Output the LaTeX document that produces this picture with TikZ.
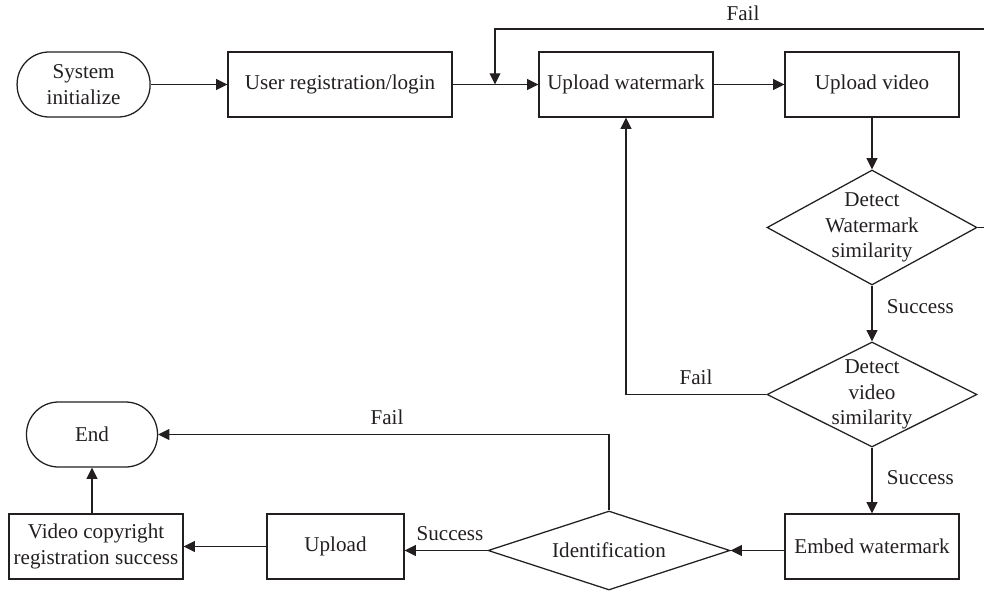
\documentclass[tikz,border=0pt]{standalone}
\usepackage{fontspec}
\setmainfont{Liberation Serif}
\usetikzlibrary{positioning,shapes.geometric,arrows.meta}
\definecolor{ink}{HTML}{231F20}
\tikzset{
  blok/.style={draw=ink,line width=0.9pt,minimum height=1.625cm,inner sep=2pt,align=center,text=ink},
  term/.style={blok,rounded corners=8mm},
  dia/.style={draw=ink,line width=0.9pt,diamond,inner sep=0pt},
  arr/.style={draw=ink,line width=0.9pt,-{Triangle[length=2.8mm,width=2.7mm]}},
  lbl/.style={text=ink},
}

\begin{document}
\begin{tikzpicture}[font=\fontsize{15}{18}\selectfont]
        \useasboundingbox (0,0) rectangle (24.6,14.825);
        % top row
        \node[term,minimum width=3.325cm] (sys) at (2.09,12.7125) {System\\initialize};
        \node[blok,minimum width=5.6cm] (user) at (8.5,12.7125) {User registration/login};
        \node[blok,minimum width=4.35cm] (upwm) at (15.65,12.7125) {Upload watermark};
        \node[blok,minimum width=4.35cm] (upvid) at (21.8,12.7125) {Upload video};
        % checks
        \node[dia,minimum width=5.25cm,minimum height=2.875cm,
              label={[lbl,align=center]center:Detect\\Watermark\\similarity}] (dwm) at (21.8,9.1375) {};
        \node[dia,minimum width=5.25cm,minimum height=2.625cm,
              label={[lbl,align=center]center:Detect\\video\\similarity}] (dvid) at (21.8,4.9625) {};
        % bottom row
        \node[blok,minimum width=4.35cm] (embed) at (21.8,1.1625) {Embed watermark};
        \node[dia,minimum width=6.05cm,minimum height=1.975cm,
              label={[lbl]center:Identification}] (ident) at (15.225,1.0625) {};
        \node[blok,minimum width=3.425cm] (upload) at (8.3875,1.1625) {Upload};
        \node[blok,minimum width=4.35cm] (vcr) at (2.4,1.1625) {Video copyright\\registration success};
        \node[term,minimum width=3.275cm] (end) at (2.3,3.9625) {End};
        \coordinate (join) at (12.375,12.7125);

        \draw[arr] (sys) -- (user);
        \draw[arr] (user) -- (upwm);
        \draw[arr] (upwm) -- (upvid);
        \draw[arr] (upvid) -- (dwm);
        \draw[arr] (dwm.east) -| (24.8,14.1) -| (join);
        \draw[arr] (dwm) -- (dvid);
        \draw[arr] (dvid.west) -| (upwm.south);
        \draw[arr] (dvid) -- (embed);
        \draw[arr] (embed.west |- ident.east) -- (ident.east);
        \draw[arr] (ident.west) -- (upload.east |- ident.west);
        \draw[arr] (ident.north) |- (end.east);
        \draw[arr] (upload) -- (vcr);
        \draw[arr] (end.south |- vcr.north) -- (end.south);

        \node[lbl] (failtop) at (18.575,14.5) {Fail};
        \node[lbl] (failvid) at (17.4,5.4) {Fail};
        \node[lbl,anchor=west] (okwm) at (22.05,7.15) {Success};
        \node[lbl,anchor=west] (okvid) at (22.05,2.875) {Success};
        \node[lbl] (failid) at (9.675,4.4) {Fail};
        \node[lbl] (okid) at (11.25,1.475) {Success};
      \end{tikzpicture}
\end{document}
